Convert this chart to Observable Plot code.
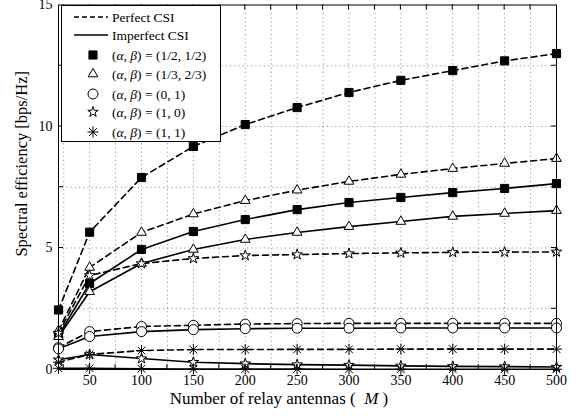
<!DOCTYPE html>
<html>
<head>
<meta charset="utf-8">
<script src="https://cdn.jsdelivr.net/npm/d3@7"></script>
<script src="https://cdn.jsdelivr.net/npm/@observablehq/plot@0.6"></script>
<style>
  html, body { margin: 0; padding: 0; background: #fff; }
  #chart { position: relative; width: 582px; height: 417px; }
  svg { font-family: "Liberation Serif", "Times New Roman", serif; }
</style>
</head>
<body>
<div id="chart"></div>
<script>
// ---- Data ----
const M = [20, 50, 100, 150, 200, 250, 300, 350, 400, 450, 500];
const xTicks = [50, 100, 150, 200, 250, 300, 350, 400, 450, 500];
const yTicks = [0, 5, 10, 15];

const perfectHalf    = [2.45, 5.65, 7.9, 9.18, 10.08, 10.78, 11.4, 11.9, 12.3, 12.7, 13.0];
const imperfectHalf  = [1.4, 3.54, 4.94, 5.68, 6.17, 6.58, 6.87, 7.08, 7.28, 7.45, 7.65];
const perfectThird   = [1.6, 4.2, 5.64, 6.4, 6.95, 7.38, 7.74, 8.03, 8.27, 8.48, 8.68];
const imperfectThird = [1.35, 3.2, 4.36, 4.94, 5.35, 5.64, 5.88, 6.09, 6.3, 6.42, 6.54];
const perfectZeroOne   = [0.9, 1.56, 1.77, 1.82, 1.87, 1.89, 1.9, 1.9, 1.9, 1.9, 1.9];
const imperfectZeroOne = [0.85, 1.36, 1.56, 1.64, 1.68, 1.7, 1.7, 1.71, 1.71, 1.71, 1.71];
const perfectOneZero   = [1.5, 3.87, 4.36, 4.57, 4.69, 4.73, 4.77, 4.8, 4.82, 4.83, 4.84];
const imperfectOneZero = [0.4, 0.62, 0.45, 0.3, 0.24, 0.2, 0.18, 0.15, 0.13, 0.12, 0.1];
const perfectOneOne    = [0.3, 0.62, 0.78, 0.82, 0.82, 0.83, 0.83, 0.84, 0.84, 0.84, 0.84];
const imperfectOneOne  = [0.05, 0.05, 0.03, 0.02, 0.02, 0.02, 0.01, 0.01, 0.01, 0.01, 0.01];

const legendLabels = [
  ["1/2, 1/2", "square"],
  ["1/3, 2/3", "triangle"],
  ["0, 1", "circle"],
  ["1, 0", "star"],
  ["1, 1", "asterisk"]
];

// ---- Custom 8-arm asterisk (MATLAB '*') ----
const asterisk8 = {
  draw(ctx, size) {
    const r = Math.sqrt(size / Math.PI);
    const d = r * Math.SQRT1_2;
    ctx.moveTo(-r, 0); ctx.lineTo(r, 0);
    ctx.moveTo(0, -r); ctx.lineTo(0, r);
    ctx.moveTo(-d, -d); ctx.lineTo(d, d);
    ctx.moveTo(-d, d); ctx.lineTo(d, -d);
  }
};

const styles = {
  square:   {symbol: "square", fill: "black", r: 4.6},
  triangle: {symbol: "triangle", fill: "white", r: 3.6},
  circle:   {symbol: "circle", fill: "white", r: 5},
  star:     {symbol: "star", fill: "white", r: 3.3},
  asterisk: {symbol: asterisk8, fill: "none", r: 5.5}
};

const series = [
  {values: perfectHalf, perfect: true, marker: "square"},
  {values: imperfectHalf, perfect: false, marker: "square"},
  {values: perfectThird, perfect: true, marker: "triangle"},
  {values: imperfectThird, perfect: false, marker: "triangle"},
  {values: perfectZeroOne, perfect: true, marker: "circle"},
  {values: imperfectZeroOne, perfect: false, marker: "circle"},
  {values: perfectOneZero, perfect: true, marker: "star"},
  {values: imperfectOneZero, perfect: false, marker: "star"},
  {values: perfectOneOne, perfect: true, marker: "asterisk"},
  {values: imperfectOneOne, perfect: false, marker: "asterisk"}
];

const marks = [
  Plot.gridX(d3.range(25, 500, 25), {stroke: "#999", strokeOpacity: 1, strokeDasharray: "1.2,3"}),
  Plot.gridY(d3.range(2.5, 15, 2.5), {stroke: "#999", strokeOpacity: 1, strokeDasharray: "1.2,3"}),
];

for (const s of series) {
  const rows = M.map((m, i) => ({M: m, v: s.values[i]}));
  marks.push(Plot.line(rows, {
    x: "M", y: "v", stroke: "black", strokeWidth: 1.6,
    strokeDasharray: s.perfect ? "6,4" : null
  }));
}
for (const s of series) {
  const rows = M.map((m, i) => ({M: m, v: s.values[i]}));
  const st = styles[s.marker];
  marks.push(Plot.dot(rows, {
    x: "M", y: "v", symbol: st.symbol, r: st.r, fill: st.fill,
    stroke: "black", strokeWidth: 1
  }));
}

marks.push(Plot.axisX(xTicks, {tickSize: 0, tickPadding: 6, fontSize: 14, label: null, color: "black"}));
marks.push(Plot.axisY(yTicks, {tickSize: 0, tickPadding: 6, fontSize: 14, label: null, color: "black"}));
marks.push(Plot.frame({stroke: "black", strokeWidth: 1}));

const plot = Plot.plot({
  width: 582,
  height: 417,
  marginLeft: 58,
  marginRight: 26,
  marginTop: 4.5,
  marginBottom: 48,
  x: {domain: [20, 500]},
  y: {domain: [0, 15]},
  style: {fontFamily: "'Liberation Serif', serif", background: "white", color: "black"},
  marks
});

document.getElementById("chart").appendChild(plot);

// ---- Post-render: inward ticks, axis titles, legend ----
const svg = d3.select(plot);
const xs = plot.scale("x"), ys = plot.scale("y");
const X = v => xs.apply(v), Y = v => ys.apply(v);
const x0 = X(20), x1 = X(500), y0 = Y(0), y1 = Y(15);
const g = svg.append("g").attr("stroke", "black").attr("stroke-width", 1);
for (const v of d3.range(25, 500, 25)) {
  g.append("line").attr("x1", X(v)).attr("x2", X(v)).attr("y1", y0).attr("y2", y0 - 5);
  g.append("line").attr("x1", X(v)).attr("x2", X(v)).attr("y1", y1).attr("y2", y1 + 5);
}
for (const v of d3.range(2.5, 15, 2.5)) {
  g.append("line").attr("y1", Y(v)).attr("y2", Y(v)).attr("x1", x0).attr("x2", x0 + 5);
  g.append("line").attr("y1", Y(v)).attr("y2", Y(v)).attr("x1", x1).attr("x2", x1 - 5);
}

svg.append("text")
  .attr("x", 279).attr("y", 404)
  .attr("text-anchor", "middle")
  .attr("font-size", 17)
  .attr("fill", "black")
  .html('Number of relay antennas (  <tspan font-style="italic">M</tspan> )');

svg.append("text")
  .attr("transform", `translate(27, ${(y0 + y1) / 2 - 23}) rotate(-90)`)
  .attr("text-anchor", "middle")
  .attr("font-size", 16.5)
  .attr("fill", "black")
  .text("Spectral efficiency [bps/Hz]");

// Legend
const lg = svg.append("g").attr("font-size", 13.5).attr("fill", "black").attr("text-anchor", "start");
lg.append("rect").attr("x", 61.5).attr("y", 5.5).attr("width", 159).attr("height", 136)
  .attr("fill", "white").attr("stroke", "black").attr("stroke-width", 1);
const rowY = [17, 35, 55, 74, 94, 112, 132];
lg.append("line").attr("x1", 74).attr("x2", 108).attr("y1", rowY[0]).attr("y2", rowY[0])
  .attr("stroke", "black").attr("stroke-width", 1.6).attr("stroke-dasharray", "5,3");
lg.append("line").attr("x1", 74).attr("x2", 108).attr("y1", rowY[1]).attr("y2", rowY[1])
  .attr("stroke", "black").attr("stroke-width", 1.6);
lg.append("text").attr("x", 112).attr("y", rowY[0]).attr("dy", "0.35em").text("Perfect CSI");
lg.append("text").attr("x", 112).attr("y", rowY[1]).attr("dy", "0.35em").text("Imperfect CSI");
legendLabels.forEach(([lab, mk], i) => {
  const st = styles[mk];
  const sym = typeof st.symbol === "string"
    ? {square: d3.symbolSquare, triangle: d3.symbolTriangle, circle: d3.symbolCircle, star: d3.symbolStar}[st.symbol]
    : st.symbol;
  const yy = rowY[i + 2];
  lg.append("path")
    .attr("d", d3.symbol(sym, Math.PI * st.r * st.r)())
    .attr("transform", `translate(93, ${yy})`)
    .attr("fill", st.fill).attr("stroke", "black").attr("stroke-width", 1);
  lg.append("text").attr("x", 112).attr("y", yy).attr("dy", "0.35em")
    .html(`(<tspan font-style="italic">α</tspan>, <tspan font-style="italic">β</tspan>) = (${lab})`);
});
</script>
</body>
</html>
